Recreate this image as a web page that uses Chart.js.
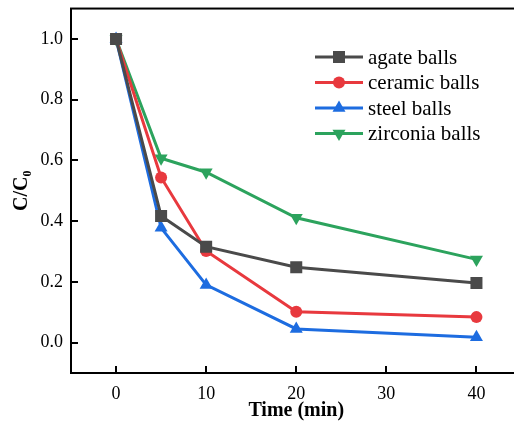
<!DOCTYPE html>
<html>
<head>
<meta charset="utf-8">
<script src="https://cdn.jsdelivr.net/npm/chart.js@4/dist/chart.umd.min.js"></script>
<style>
html,body{margin:0;padding:0;background:#fff;overflow:hidden;}
#wrap{width:530px;height:425px;}
</style>
</head>
<body>
<div id="wrap"><canvas id="c" width="530" height="425"></canvas></div>
<script>
const times = [0, 5, 10, 20, 40];
const agate = [1.0, 0.417, 0.316, 0.248, 0.196];
const ceramic = [1.0, 0.544, 0.302, 0.102, 0.084];
const steel = [1.0, 0.378, 0.19, 0.045, 0.018];
const zirconia = [1.0, 0.607, 0.561, 0.411, 0.274];
const seriesNames = ['agate balls', 'ceramic balls', 'steel balls', 'zirconia balls'];
const xTicks = [0, 10, 20, 30, 40];
const yTicks = [0.0, 0.2, 0.4, 0.6, 0.8, 1.0];

const colors = ['#4a4a4a', '#e8393e', '#1d6ce0', '#2ca35d'];
const styles = [
  {pointStyle: 'rect', radius: 8.5, rotation: 0},
  {pointStyle: 'circle', radius: 6, rotation: 0},
  {pointStyle: 'triangle', radius: 7.5, rotation: 0},
  {pointStyle: 'triangle', radius: 7.5, rotation: 180}
];
const allSeries = [agate, ceramic, steel, zirconia];

const datasets = allSeries.map((vals, i) => ({
  label: seriesNames[i],
  data: times.map((t, j) => ({x: t, y: vals[j]})),
  borderColor: colors[i],
  backgroundColor: colors[i],
  borderWidth: 3,
  pointStyle: styles[i].pointStyle,
  pointRadius: styles[i].radius,
  pointRotation: styles[i].rotation,
  pointBorderWidth: 0,
  pointBackgroundColor: colors[i],
  tension: 0
}));

const frameAndTicks = {
  id: 'frameAndTicks',
  afterDraw(chart) {
    const ctx = chart.ctx, a = chart.chartArea;
    const xs = chart.scales.x, ys = chart.scales.y;
    ctx.save();
    ctx.strokeStyle = '#000';
    ctx.lineWidth = 2;
    ctx.strokeRect(a.left, a.top, a.right - a.left, a.bottom - a.top);
    ctx.beginPath();
    xTicks.forEach(v => {
      const px = Math.round(xs.getPixelForValue(v));
      ctx.moveTo(px, a.bottom); ctx.lineTo(px, a.bottom - 7);
    });
    yTicks.forEach(v => {
      const py = Math.round(ys.getPixelForValue(v));
      ctx.moveTo(a.left, py); ctx.lineTo(a.left + 7, py);
    });
    ctx.stroke();

    // legend
    const lx0 = 315, lx1 = 363, tx = 368;
    const rowY = [57, 82.5, 108, 133.5];
    ctx.font = '21px "Liberation Serif", "Times New Roman", serif';
    ctx.textBaseline = 'middle';
    ctx.textAlign = 'left';
    chart.data.datasets.forEach((ds, i) => {
      const y = rowY[i];
      ctx.strokeStyle = ds.borderColor;
      ctx.lineWidth = 3;
      ctx.beginPath(); ctx.moveTo(lx0, y); ctx.lineTo(lx1, y); ctx.stroke();
      ctx.fillStyle = ds.borderColor;
      ctx.strokeStyle = ds.borderColor;
      Chart.helpers.drawPoint(ctx, {
        pointStyle: ds.pointStyle, radius: ds.pointRadius, rotation: ds.pointRotation, borderWidth: 0
      }, (lx0 + lx1) / 2, y);
      ctx.fillStyle = '#000';
      ctx.fillText(ds.label, tx, y + 1);
    });
    ctx.restore();
  }
};

new Chart(document.getElementById('c'), {
  type: 'line',
  data: {datasets},
  options: {
    responsive: false,
    animation: false,
    layout: {padding: {top: 0, right: 7, left: 0, bottom: 0}},
    plugins: {legend: {display: false}, tooltip: {enabled: false}},
    scales: {
      x: {
        type: 'linear', min: -5, max: 45,
        afterBuildTicks(s) { s.ticks = xTicks.map(v => ({value: v})); },
        afterFit(s) { s.height = 52; },
        grid: {display: false},
        border: {display: true, color: '#000', width: 2},
        ticks: {color: '#000', padding: 2, maxRotation: 0, autoSkip: false,
          font: {family: '"Liberation Serif", "Times New Roman", serif', size: 18}},
        title: {display: true, text: 'Time (min)', color: '#000', padding: {top: 0, bottom: 2},
          font: {family: '"Liberation Serif", "Times New Roman", serif', size: 20, weight: 'bold'}}
      },
      y: {
        type: 'linear', min: -0.1, max: 1.1,
        afterBuildTicks(s) { s.ticks = yTicks.map(v => ({value: v})); },
        afterFit(s) { s.width = 71; },
        grid: {display: false},
        border: {display: true, color: '#000', width: 2},
        ticks: {color: '#000', padding: 0, autoSkip: false,
          callback: v => Number(v).toFixed(1),
          font: {family: '"Liberation Serif", "Times New Roman", serif', size: 18, lineHeight: 0.95}},
        title: {display: true, text: 'C/C₀', color: '#000', padding: {top: 10, bottom: 0},
          font: {family: '"Liberation Serif", "Times New Roman", serif', size: 20, weight: 'bold'}}
      }
    }
  },
  plugins: [frameAndTicks]
});
</script>
</body>
</html>
